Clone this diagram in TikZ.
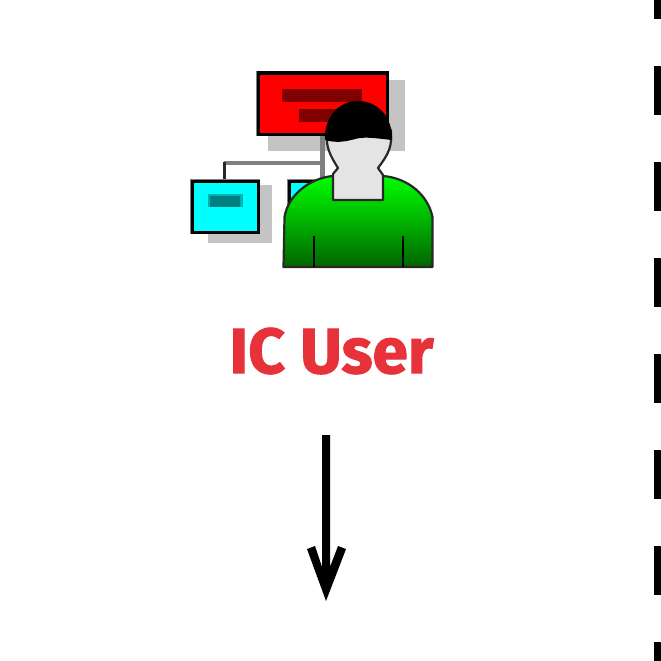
\documentclass[tikz,border=0pt]{standalone}
\usepackage{fontspec}
\setmainfont{Fira Sans}
\newfontfamily\labelfont[BoldFeatures={FakeBold=1.6}]{Fira Sans}
\definecolor{labelred}{HTML}{E8323A}
\definecolor{shadowgray}{HTML}{C4C4C4}
\definecolor{darkbar}{RGB}{128,0,0}
\definecolor{tealbar}{RGB}{0,128,128}
\definecolor{screencyan}{RGB}{0,255,255}
\definecolor{screenred}{RGB}{255,0,0}
\definecolor{linegray}{RGB}{128,128,128}
\definecolor{skin}{RGB}{228,228,228}
\definecolor{topgreen}{RGB}{0,255,0}
\definecolor{botgreen}{RGB}{0,100,0}
\definecolor{softline}{RGB}{40,40,40}
\tikzset{
  shadowbox/.style={fill=shadowgray,draw=none},
  screenhalo/.style={draw=linegray,line width=4.6pt,line join=miter},
  screenbox/.style={draw=black,line width=3pt,line join=miter},
  wire/.style={draw=linegray,line width=4pt},
  outline/.style={draw=softline,line width=2.2pt,line join=round},
  dashline/.style={fill=black,draw=none},
}
\begin{document}
\begin{tikzpicture}[x=1pt,y=-1pt]
\useasboundingbox (0,0) rectangle (661,661);
\fill[white] (0,0) rectangle (661,661);
% dashed boundary
\foreach \a/\b in {0/19,66/115,162/211,258/307,354/403,450/499,546/595,642/661}
  \fill[dashline] (654,\a) rectangle (661,\b);
% shadows
\fill[shadowbox] (268,80) rectangle (405,151);
\fill[shadowbox] (208,185) rectangle (272,243);
% wires
\draw[wire,line width=5pt] (322.5,135) -- (322.5,178);
\draw[wire] (224,163) -- (322,163);
\draw[draw=softline,line width=2.4pt] (224.5,162) -- (224.5,181);
% screens
\draw[screenhalo] (258,73) rectangle (387,134);
\draw[screenbox,fill=screenred] (258,73) rectangle (387,134);
\fill[darkbar] (282,89) rectangle (362,102);
\fill[darkbar] (299,109) rectangle (350,122);
\draw[screenhalo] (192.5,181) rectangle (258,232);
\draw[screenbox,fill=screencyan] (192.5,181) rectangle (258,232);
\fill[tealbar!60!screencyan] (208,194) rectangle (243,207);
\fill[tealbar] (210,196) rectangle (240,207);
\draw[screenhalo] (289.5,181) rectangle (330,232);
\draw[screenbox,fill=screencyan] (289.5,181) rectangle (330,232);
% body
\path[top color=topgreen,bottom color=botgreen]
  (283.5,267) -- (284.5,217) .. controls (288,195) and (310,178) .. (333,176)
  -- (383,176) .. controls (408,178) and (428,195) .. (432.5,217) -- (432.5,267) -- cycle;
\draw[outline]
  (283.5,267) -- (284.5,217) .. controls (288,195) and (310,178) .. (333,176)
  -- (383,176) .. controls (408,178) and (428,195) .. (432.5,217) -- (432.5,267) -- cycle;
\draw[draw=black,line width=1.8pt] (314,236) -- (314,267);
\draw[draw=black,line width=1.8pt] (403,236) -- (403,267);
% head
\draw[outline,fill=skin]
  (327,130) -- (327,142) .. controls (328,152) and (333,160) .. (338,168)
  -- (333,174) -- (333,200) -- (383,200) -- (383,175) -- (378,168)
  .. controls (384,160) and (390,152) .. (391,141) -- (391,130) -- cycle;
\fill[black]
  (325,140) .. controls (324,118) and (338,101) .. (358,101)
  .. controls (380,101) and (393,120) .. (392,140)
  .. controls (380,139) and (366,136) .. (355,139)
  .. controls (345,142) and (335,143) .. (325,140) -- cycle;
% label
\node[text=labelred,font=\fontsize{64}{64}\labelfont\bfseries,anchor=center,inner sep=0pt] (label) at (331.5,351) {IC User};
% arrow
\coordinate (shafttop) at (326,435);
\coordinate (tip) at (326,601);
\fill[black] (322,435) -- (330,435) -- (330,567) -- (338,546) -- (346,549) -- (tip) -- (307,549) -- (315,546) -- (322,567) -- cycle;
\end{tikzpicture}
\end{document}
